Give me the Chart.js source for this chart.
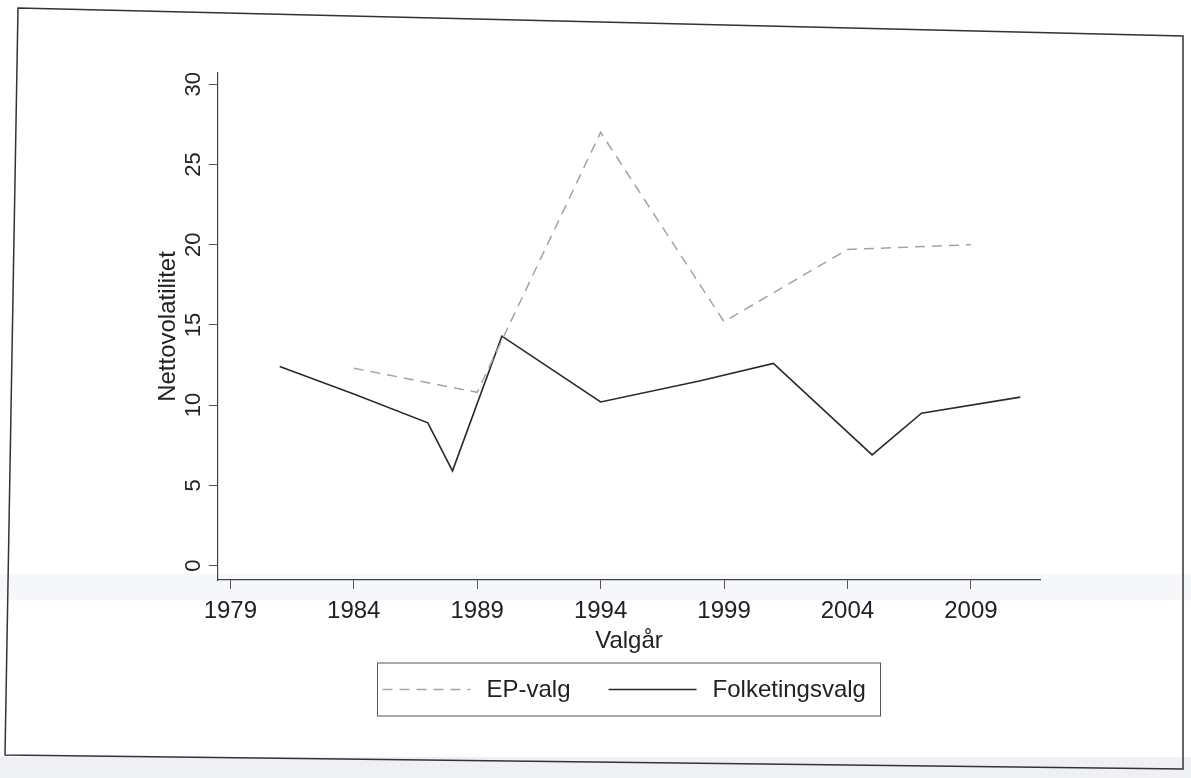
<!DOCTYPE html>
<html>
<head>
<meta charset="utf-8">
<script src="https://cdn.jsdelivr.net/npm/chart.js@4/dist/chart.umd.min.js"></script>
<style>
  html, body { margin: 0; padding: 0; background: #fff; }
  #wrap { width: 1191px; height: 778px; }
</style>
</head>
<body>
<div id="wrap"><canvas id="chart" width="1191" height="778"></canvas></div>
<script>
const epYears = [1984, 1989, 1994, 1999, 2004, 2009];
const epValues = [12.3, 10.8, 27.0, 15.2, 19.7, 20.0];
const ftYears = [1981, 1984, 1987, 1988, 1990, 1994, 1998, 2001, 2005, 2007, 2011];
const ftValues = [12.4, 10.7, 8.9, 5.9, 14.3, 10.2, 11.5, 12.6, 6.9, 9.5, 10.5];
const xTicks = [1979, 1984, 1989, 1994, 1999, 2004, 2009];
const yTicks = [0, 5, 10, 15, 20, 25, 30];

const FONT = "'Liberation Sans', Arial, sans-serif";
const INK = "#222";

function points(xs, ys) {
  return xs.map((x, i) => ({ x: x, y: ys[i] }));
}

// scanned page frame + faint scan bands
const pagePlugin = {
  id: "page",
  beforeDraw(chart) {
    const ctx = chart.ctx;
    ctx.save();
    ctx.fillStyle = "#fff";
    ctx.fillRect(0, 0, chart.width, chart.height);
    ctx.fillStyle = "rgba(225,232,242,0.35)";
    ctx.fillRect(0, 574, chart.width, 26);
    ctx.fillStyle = "#eef0f3";
    ctx.fillRect(0, 757, chart.width, 21);
    ctx.strokeStyle = "#333";
    ctx.lineWidth = 1.5;
    ctx.beginPath();
    ctx.moveTo(18, 8);
    ctx.lineTo(1183, 36);
    ctx.lineTo(1183, 769);
    ctx.lineTo(5, 755);
    ctx.closePath();
    ctx.stroke();
    ctx.restore();
  }
};

// rotated y tick labels and the boxed legend under the axis
const labelsPlugin = {
  id: "labels",
  afterDraw(chart) {
    const ctx = chart.ctx;
    const y = chart.scales.y;
    ctx.save();
    ctx.fillStyle = INK;
    ctx.font = "22px " + FONT;
    ctx.textAlign = "center";
    ctx.textBaseline = "middle";
    y.ticks.forEach(t => {
      const py = y.getPixelForValue(t.value);
      ctx.save();
      ctx.translate(194, py);
      ctx.rotate(-Math.PI / 2);
      ctx.fillText(String(t.value), 0, 0);
      ctx.restore();
    });

    const x = chart.scales.x;
    const area = chart.chartArea;
    const boxW = 503, boxH = 53;
    const left = (area.left + area.right) / 2 - boxW / 2;
    const top = x.bottom + 3;
    ctx.strokeStyle = "#555";
    ctx.lineWidth = 1;
    ctx.strokeRect(left, top, boxW, boxH);

    ctx.font = "24px " + FONT;
    ctx.textAlign = "left";
    const mid = top + boxH / 2;
    let cx = left + 5;
    chart.data.datasets.forEach(ds => {
      ctx.strokeStyle = ds.borderColor;
      ctx.lineWidth = ds.borderWidth;
      ctx.setLineDash(ds.borderDash || []);
      ctx.beginPath();
      ctx.moveTo(cx, mid);
      ctx.lineTo(cx + 88, mid);
      ctx.stroke();
      ctx.setLineDash([]);
      cx += 88 + 16;
      ctx.fillStyle = INK;
      ctx.fillText(ds.label, cx, mid + 1);
      cx += ctx.measureText(ds.label).width + 38;
    });
    ctx.restore();
  }
};

new Chart(document.getElementById("chart"), {
  type: "line",
  data: {
    datasets: [
      {
        label: "EP-valg",
        data: points(epYears, epValues),
        borderColor: "#a3a3a3",
        borderWidth: 1.5,
        borderDash: [10, 7],
        pointRadius: 0,
        fill: false
      },
      {
        label: "Folketingsvalg",
        data: points(ftYears, ftValues),
        borderColor: "#2a2a2a",
        borderWidth: 1.6,
        pointRadius: 0,
        fill: false
      }
    ]
  },
  options: {
    responsive: false,
    animation: false,
    layout: { padding: { left: 0, top: 73, right: 151, bottom: 118 } },
    plugins: {
      legend: { display: false },
      tooltip: { enabled: false }
    },
    scales: {
      x: {
        type: "linear",
        min: 1978.5,
        max: 2011.8,
        afterBuildTicks: scale => { scale.ticks = xTicks.map(v => ({ value: v })); },
        afterFit: scale => { scale.height = 80; },
        ticks: {
          color: INK,
          font: { family: FONT, size: 24 },
          padding: 8,
          maxRotation: 0,
          callback: v => String(v)
        },
        grid: { drawOnChartArea: false, drawTicks: true, tickLength: 9, color: "#555" },
        border: { display: true, color: "#444", width: 1.2 },
        title: {
          display: true,
          text: "Valgår",
          color: INK,
          font: { family: FONT, size: 24 },
          padding: { top: 0, bottom: 4 }
        }
      },
      y: {
        min: -0.9,
        max: 30.7,
        afterBuildTicks: scale => { scale.ticks = yTicks.map(v => ({ value: v })); },
        afterFit: scale => { scale.width = 218; },
        ticks: { display: false },
        grid: { drawOnChartArea: false, drawTicks: true, tickLength: 9, color: "#555" },
        border: { display: true, color: "#444", width: 1.2 },
        title: {
          display: true,
          text: "Nettovolatilitet",
          color: INK,
          font: { family: FONT, size: 24 },
          padding: { top: 154, bottom: 0 }
        }
      }
    }
  },
  plugins: [pagePlugin, labelsPlugin]
});
</script>
</body>
</html>
